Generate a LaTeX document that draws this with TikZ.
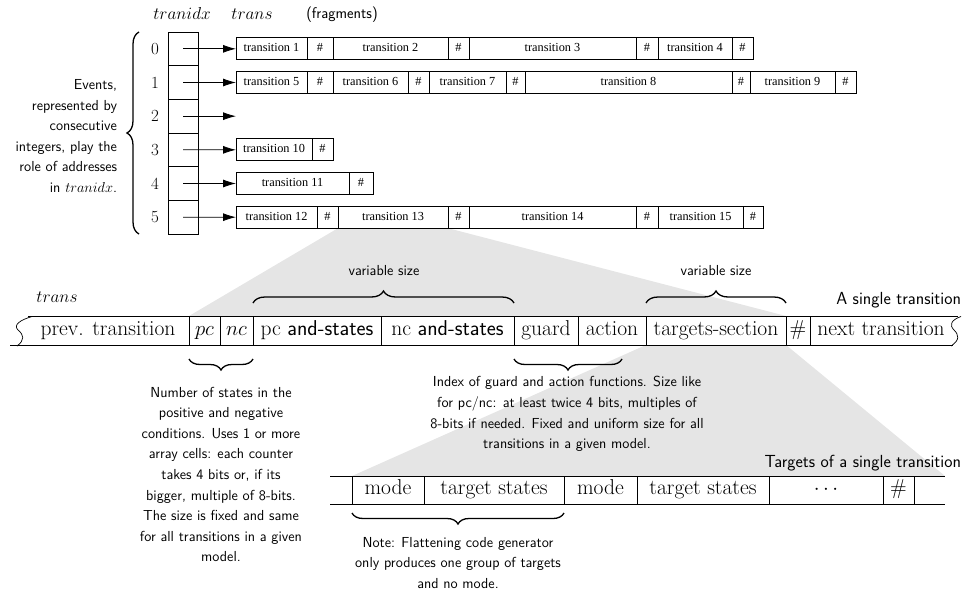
\documentclass[tikz,border=0pt]{standalone}
\usepackage{fontspec}
\newfontfamily\tmsfont{Liberation Serif}
\usetikzlibrary{arrows.meta,decorations.pathreplacing,backgrounds}
\begin{document}
\begin{tikzpicture}[x=1pt,y=-1pt,
  every node/.style={inner sep=0pt,outer sep=0pt},
  frag/.style={draw,line width=0.7pt,anchor=west,minimum height=22pt,
    font=\tmsfont\fontsize{12.3}{14}\selectfont,text height=8.5pt,text depth=2.6pt},
  idx/.style={draw,line width=0.7pt,minimum width=30pt,minimum height=33.67pt},
  num/.style={font=\fontsize{17}{20}\selectfont},
  ptr/.style={-{Latex[length=13pt,width=8pt]},line width=0.8pt},
  big/.style={draw,line width=0.8pt,anchor=west,
    font=\fontsize{21.5}{24}\selectfont,text height=14.5pt,text depth=5pt},
  bigtxt/.style={font=\fontsize{21.5}{24}\selectfont,text height=14.5pt,text depth=5pt},
  lbl/.style={font=\sffamily\fontsize{14.5}{20.6}\selectfont},
  ttl/.style={font=\sffamily\fontsize{17.5}{20}\selectfont},
  hdr/.style={font=\fontsize{18}{20}\selectfont},
  brc/.style={decorate,decoration={brace,amplitude=11pt},line width=1.3pt},
  bar/.style={line width=0.8pt},
  shade/.style={fill=gray!20},
]
\useasboundingbox (0,0) rectangle (963,594);

% column headers
\node[hdr] (hidx) at (182,14) {$tranidx$};
\node[hdr] (htr) at (252,14) {$trans$};
\node[lbl,font=\sffamily\fontsize{15.5}{18}\selectfont] (hfrag) at (342,15) {(fragments)};

% index array with event numbers
\foreach \i in {0,...,5} {
  \node[idx] (ix\i) at (183,{48.83+33.67*\i}) {};
  \node[num] (n\i) at (155,{48.83+33.67*\i}) {\i};
}

% fragments of the transition array
\foreach \x/\w/\t/\n in {236/71/transition 1/a1, 307/26/\#/a2, 333/115/transition 2/a3,
    448/21/\#/a4, 469/167/transition 3/a5, 636/22/\#/a6, 658/74/transition 4/a7, 732/21/\#/a8}
  \node[frag,minimum width=\w pt] (\n) at (\x,48.83) {\t};
\foreach \x/\w/\t/\n in {236/71/transition 5/b1, 307/26/\#/b2, 333/75/transition 6/b3,
    408/21/\#/b4, 429/77/transition 7/b5, 506/19/\#/b6, 525/207/transition 8/b7,
    732/18/\#/b8, 750/85/transition 9/b9, 835/21/\#/b10}
  \node[frag,minimum width=\w pt] (\n) at (\x,82.5) {\t};
\foreach \x/\w/\t/\n in {236/76/transition 10/d1, 312/21/\#/d2}
  \node[frag,minimum width=\w pt] (\n) at (\x,149.83) {\t};
\foreach \x/\w/\t/\n in {236/113/transition 11/e1, 349/24/\#/e2}
  \node[frag,minimum width=\w pt] (\n) at (\x,183.5) {\t};
\foreach \x/\w/\t/\n in {236/81/transition 12/f1, 317/21/\#/f2, 338/110/transition 13/f3,
    448/21/\#/f4, 469/167/transition 14/f5, 636/22/\#/f6, 658/85/transition 15/f7, 743/20/\#/f8}
  \node[frag,minimum width=\w pt] (\n) at (\x,217.17) {\t};

% pointers from the index array
\foreach \i/\tgt in {0/a1,1/b1,3/d1,4/e1,5/f1}
  \draw[ptr] (ix\i.center) -- (\tgt.west);
\coordinate (nil2) at (236,116.17);
\draw[ptr] (ix2.center) -- (nil2);

% events brace and explanation
\draw[brc,decoration={brace,amplitude=12pt}] (139,234) -- (139,32);
\node[lbl,align=right,anchor=east] (events) at (117,136)
  {Events,\\represented by\\consecutive\\integers, play the\\role of addresses\\in $tranidx$.};

% layout of a single transition
\node[hdr,font=\fontsize{17.5}{20}\selectfont] (htr2) at (57,297) {$trans$};
\node[ttl,anchor=east] (single) at (961,300) {A single transition};
\node[bigtxt] (prev) at (108,330.5) {prev. transition};
\node[big,minimum width=31pt,minimum height=29pt] (pc) at (189,330.5) {$pc$};
\node[big,minimum width=33pt,minimum height=29pt] (nc) at (220,330.5) {$nc$};
\node[big,minimum width=128pt,minimum height=29pt] (pcs) at (253,330.5) {pc \textsf{and-states}};
\node[big,minimum width=133pt,minimum height=29pt] (ncs) at (381,330.5) {nc \textsf{and-states}};
\node[big,minimum width=64pt,minimum height=29pt] (guard) at (514,330.5) {guard};
\node[big,minimum width=68pt,minimum height=29pt] (action) at (578,330.5) {action};
\node[big,minimum width=140pt,minimum height=29pt] (tsec) at (646,330.5) {targets-section};
\node[big,minimum width=24pt,minimum height=29pt] (hs) at (786,330.5) {\#};
\node[bigtxt] (next) at (881,330.5) {next transition};
\draw[bar] (28,316) -- (pc.north west);
\draw[bar] (10,345) -- (pc.south west);
\draw[bar] (hs.north east) -- (958,316);
\draw[bar] (hs.south east) -- (953,345);
\draw[line width=0.7pt] (32,316.5) .. controls (20,320) and (13,325) .. (18,330)
  .. controls (24,335) and (25,340) .. (17,346);
\draw[line width=0.7pt] (961,316.5) .. controls (951,320) and (949,325) .. (954,330)
  .. controls (959,335) and (960,340) .. (951,346);

% size annotations above
\draw[brc,decoration={brace,amplitude=12pt}] ([yshift=13pt]pcs.north west) -- ([yshift=13pt]ncs.north east);
\draw[brc,decoration={brace,amplitude=12pt}] ([yshift=13pt]tsec.north west) -- ([yshift=13pt]tsec.north east);
\node[lbl] (vs1) at (384,271) {variable size};
\node[lbl] (vs2) at (716,271) {variable size};

% annotations below
\coordinate (gbr) at (622,359);
\draw[brc] ([yshift=-14pt]nc.south east) -- ([yshift=-14pt]pc.south west);
\draw[brc] (gbr) -- ([yshift=-14pt]guard.south west);
\node[lbl,align=center] (numdesc) at (221,474.5)
  {Number of states in the\\positive and negative\\conditions. Uses 1 or more\\array cells: each counter\\takes 4 bits or, if its\\bigger, multiple of 8-bits.\\The size is fixed and same\\for all transitions in a given\\model.};
\node[lbl,align=center] (idxdesc) at (567,414)
  {Index of guard and action functions. Size like\\for pc/nc: at least twice 4 bits, multiples of\\8-bits if needed. Fixed and uniform size for all\\transitions in a given model.};

% targets of a single transition
\node[ttl,anchor=east] (targets) at (961,463) {Targets of a single transition};
\coordinate (bl1) at (330,476);
\coordinate (bl2) at (330,504);
\coordinate (br1) at (945,476);
\coordinate (br2) at (945,504);
\draw[bar] (bl1) -- (br1);
\draw[bar] (bl2) -- (br2);
\node[big,minimum width=72pt,minimum height=28pt] (m1) at (352,490) {mode};
\node[big,minimum width=140pt,minimum height=28pt] (ts1) at (424,490) {target states};
\node[big,minimum width=73pt,minimum height=28pt] (m2) at (564,490) {mode};
\node[big,minimum width=132pt,minimum height=28pt] (ts2) at (637,490) {target states};
\node[big,minimum width=114pt,minimum height=28pt] (dots) at (769,490) {$\cdots$};
\node[big,minimum width=31pt,minimum height=28pt] (th) at (883,490) {\#};
\draw[brc] ([yshift=-9pt]ts1.south east) -- ([yshift=-9pt]m1.south west);
\node[lbl,align=center] (note) at (458,563)
  {Note: Flattening code generator\\only produces one group of targets\\and no mode.};

% zoom-in shading
\begin{scope}[on background layer]
  \fill[shade] (f3.south west) -- (f3.south east) -- (tsec.north east) -- (pc.north west) -- cycle;
  \fill[shade] (tsec.south west) -- (tsec.south east) -- (br1) -- (m1.north west) -- cycle;
\end{scope}
\end{tikzpicture}
\end{document}
